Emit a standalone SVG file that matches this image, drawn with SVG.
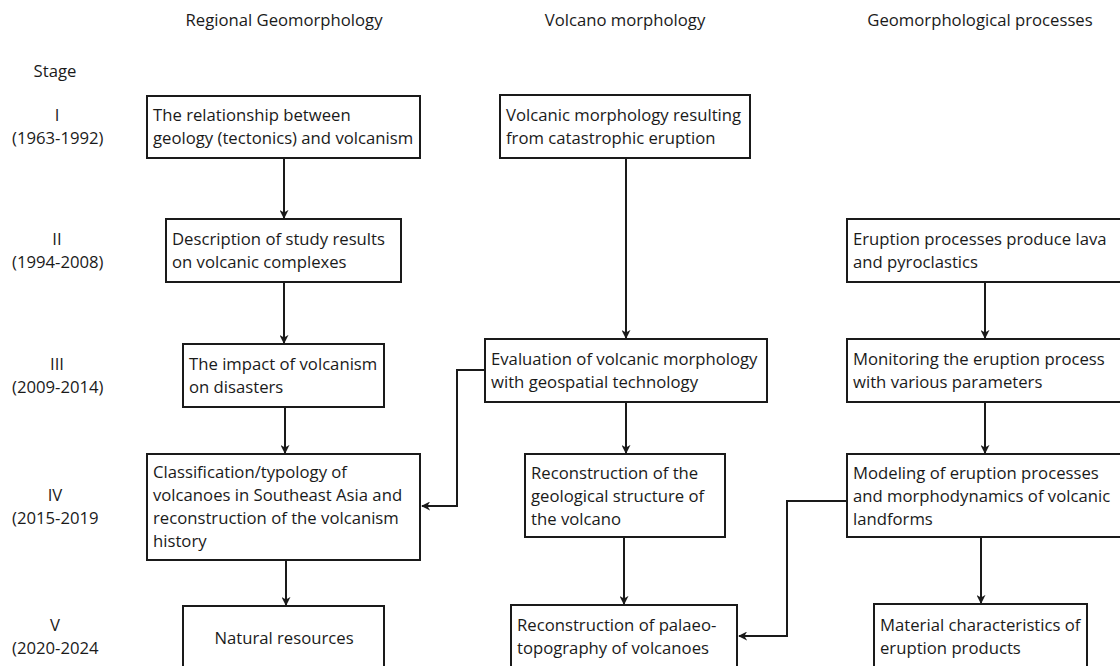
<svg xmlns="http://www.w3.org/2000/svg" width="1120" height="666" viewBox="0 0 1120 666">
<style>
text{font-family:"Open Sans","Noto Sans","Liberation Sans",sans-serif;font-size:16.7px;fill:#1a1a1a}
.box{fill:#fff;stroke:#1a1a1a;stroke-width:2}
.c{text-anchor:middle}
.conn{fill:none;stroke:#1a1a1a;stroke-width:2}
</style>
<defs>
<marker id="ah" viewBox="0 0 10 10" refX="9" refY="5" markerWidth="4.5" markerHeight="4.5" orient="auto" markerUnits="strokeWidth">
<path d="M0,0 L10,5 L0,10 L3,5 Z" fill="#1a1a1a"/>
</marker>
</defs>
<rect width="1120" height="666" fill="#fff"/>
<g id="headers">
<text class="c" x="284" y="26">Regional Geomorphology</text>
<text class="c" x="625" y="26">Volcano morphology</text>
<text class="c" x="980" y="26">Geomorphological processes</text>
</g>
<g id="stages">
<text class="c" x="55" y="77">Stage</text>
<text class="c" x="57" y="121">I</text>
<text x="12" y="144">(1963-1992)</text>
<text class="c" x="57" y="245">II</text>
<text x="12" y="268">(1994-2008)</text>
<text class="c" x="57" y="370">III</text>
<text x="12" y="393">(2009-2014)</text>
<text class="c" x="55" y="501">IV</text>
<text x="12" y="524">(2015-2019</text>
<text class="c" x="55" y="631">V</text>
<text x="12" y="654">(2020-2024</text>
</g>
<g id="connectors">
<line class="conn" x1="284" y1="158" x2="284" y2="218" marker-end="url(#ah)"/>
<line class="conn" x1="284" y1="282" x2="284" y2="343" marker-end="url(#ah)"/>
<line class="conn" x1="285" y1="407" x2="285" y2="453" marker-end="url(#ah)"/>
<line class="conn" x1="286" y1="560" x2="286" y2="605" marker-end="url(#ah)"/>
<line class="conn" x1="626" y1="158" x2="626" y2="338" marker-end="url(#ah)"/>
<line class="conn" x1="626" y1="402" x2="626" y2="453" marker-end="url(#ah)"/>
<line class="conn" x1="624" y1="537" x2="624" y2="604" marker-end="url(#ah)"/>
<line class="conn" x1="985" y1="282" x2="985" y2="338" marker-end="url(#ah)"/>
<line class="conn" x1="985" y1="402" x2="985" y2="453" marker-end="url(#ah)"/>
<line class="conn" x1="981" y1="537" x2="981" y2="603" marker-end="url(#ah)"/>
<polyline class="conn" points="485,370 457,370 457,506 422,506" marker-end="url(#ah)"/>
<polyline class="conn" points="847,501 787,501 787,636 739,636" marker-end="url(#ah)"/>
</g>
<g id="a1"><rect class="box" x="147" y="96" width="273" height="62"/>
<text x="153" y="121">The relationship between</text><text x="153" y="144">geology (tectonics) and volcanism</text></g>
<g id="a2"><rect class="box" x="166" y="219" width="235" height="63"/>
<text x="172" y="245">Description of study results</text><text x="172" y="268">on volcanic complexes</text></g>
<g id="a3"><rect class="box" x="183" y="344" width="201" height="63"/>
<text x="189" y="370">The impact of volcanism</text><text x="189" y="393">on disasters</text></g>
<g id="a4"><rect class="box" x="147" y="454" width="273" height="106"/>
<text x="153" y="478">Classification/typology of</text><text x="153" y="501">volcanoes in Southeast Asia and</text><text x="153" y="524">reconstruction of the volcanism</text><text x="153" y="547">history</text></g>
<g id="a5"><rect class="box" x="183" y="606" width="201" height="70"/>
<text class="c" x="284" y="644">Natural resources</text></g>
<g id="b1"><rect class="box" x="500" y="95" width="250" height="63"/>
<text x="506" y="121">Volcanic morphology resulting</text><text x="506" y="144">from catastrophic eruption</text></g>
<g id="b3"><rect class="box" x="485" y="339" width="282" height="63"/>
<text x="491" y="365">Evaluation of volcanic morphology</text><text x="491" y="388">with geospatial technology</text></g>
<g id="b4"><rect class="box" x="525" y="454" width="200" height="83"/>
<text x="531" y="479">Reconstruction of the</text><text x="531" y="502">geological structure of</text><text x="531" y="525">the volcano</text></g>
<g id="b5"><rect class="box" x="511" y="605" width="226" height="70"/>
<text x="517" y="631">Reconstruction of palaeo-</text><text x="517" y="654">topography of volcanoes</text></g>
<g id="c2"><rect class="box" x="847" y="219" width="290" height="63"/>
<text x="853" y="245">Eruption processes produce lava</text><text x="853" y="268">and pyroclastics</text></g>
<g id="c3"><rect class="box" x="847" y="339" width="290" height="63"/>
<text x="853" y="365">Monitoring the eruption process</text><text x="853" y="388">with various parameters</text></g>
<g id="c4"><rect class="box" x="847" y="454" width="290" height="83"/>
<text x="853" y="479">Modeling of eruption processes</text><text x="853" y="502">and morphodynamics of volcanic</text><text x="853" y="525">landforms</text></g>
<g id="c5"><rect class="box" x="874" y="604" width="213" height="72"/>
<text x="880" y="631">Material characteristics of</text><text x="880" y="654">eruption products</text></g>
</svg>
